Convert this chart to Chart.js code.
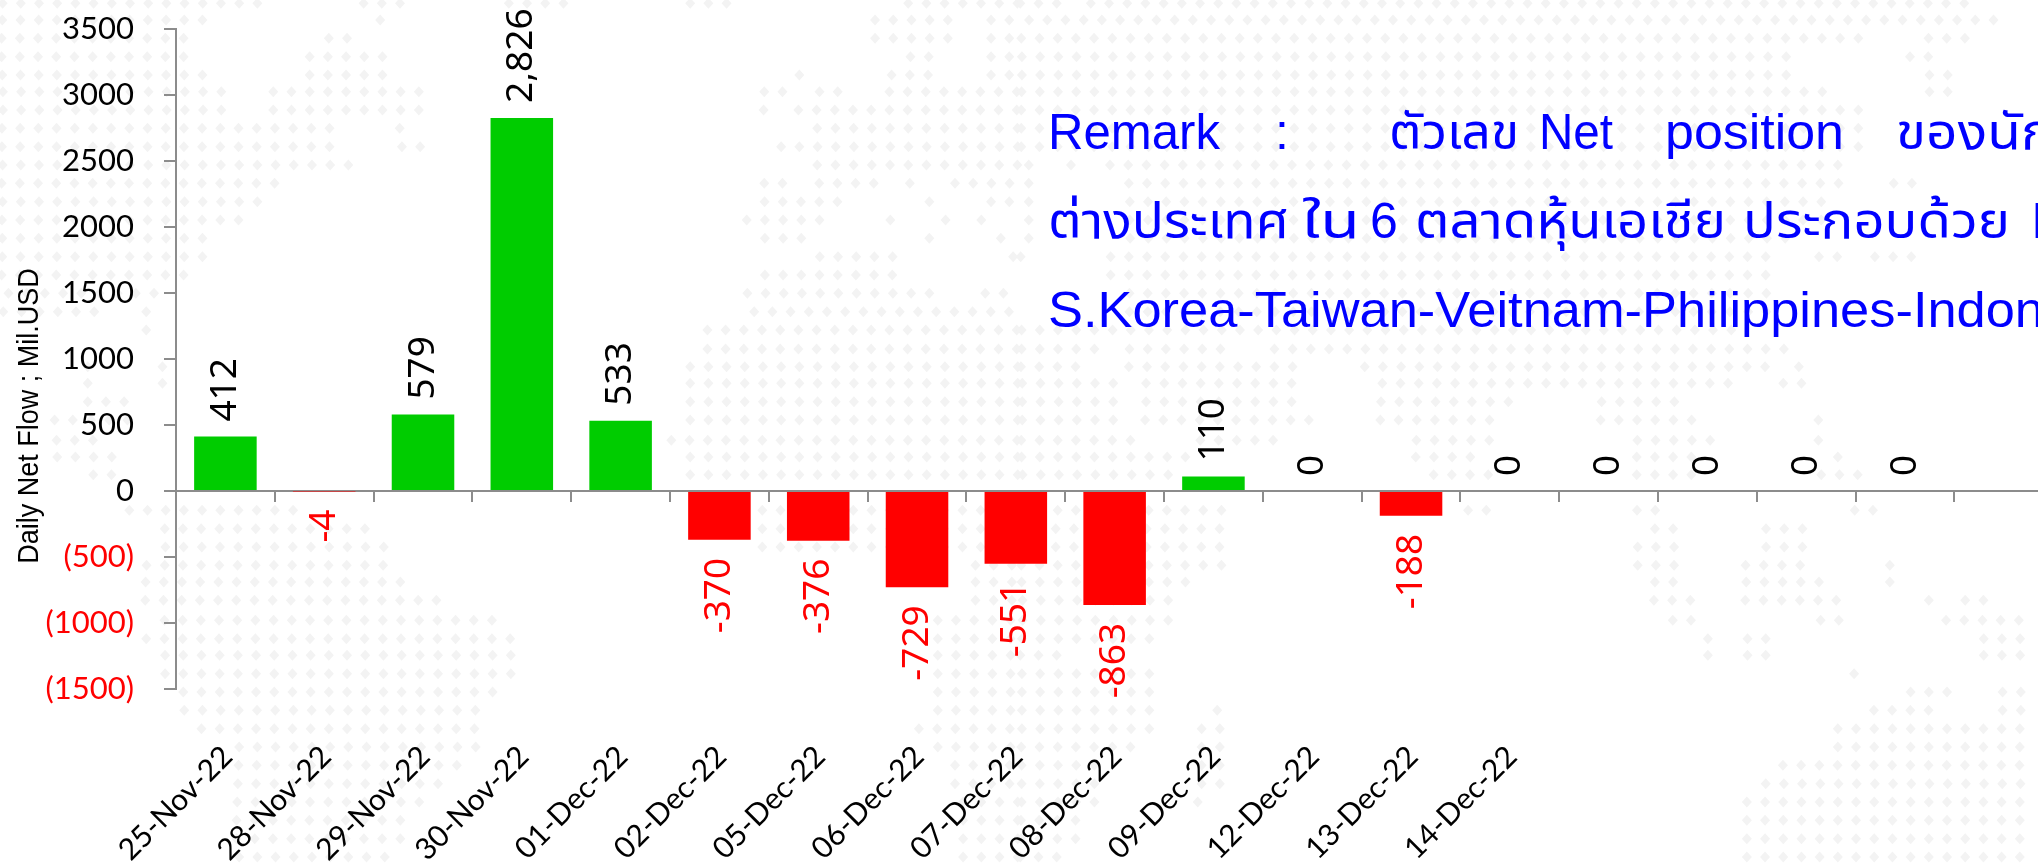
<!DOCTYPE html>
<html><head><meta charset="utf-8">
<script src="https://cdn.jsdelivr.net/npm/chart.js@4"></script>
<style>
html,body{margin:0;padding:0;background:#fff;width:2038px;height:863px;overflow:hidden}
#w{position:relative;width:2038px;height:863px;overflow:hidden}
canvas{position:absolute;left:0;top:0}
.r{position:absolute;color:#0000ff;font:50px "Liberation Sans","Noto Sans Thai","Noto Sans",sans-serif;white-space:pre;line-height:60px;transform-origin:0 50%}
</style></head><body>
<div id="w"><canvas id="c" width="2080" height="863" style="width:2080px;height:863px"></canvas>
<div class="r" data-w="172" style="top:102px;left:1048px">Remark</div>
<div class="r" style="top:102px;left:1275px">:</div>
<div class="r" data-w="130" style="top:102px;left:1389px">ตัวเลข</div>
<div class="r" data-w="74" style="top:102px;left:1539px">Net</div>
<div class="r" data-w="179" style="top:102px;left:1665px">position</div>
<div class="r" data-s="1.1" style="top:102px;left:1896px">ของนักลงทุน</div>
<div class="r" data-w="241" style="top:191px;left:1048px">ต่างประเทศ</div>
<div class="r" data-w="58" style="top:191px;left:1302px">ใน</div>
<div class="r" style="top:191px;left:1370px">6</div>
<div class="r" data-w="311" style="top:191px;left:1415px">ตลาดหุ้นเอเชีย</div>
<div class="r" data-w="267" style="top:191px;left:1743px">ประกอบด้วย</div>
<div class="r" style="top:191px;left:2031px">India-</div>
<div class="r" id="l3" style="top:280px;left:1048px">S.Korea-Taiwan-Veitnam-Philippines-Indonesia</div>
</div>
<script>
const categories=["25-Nov-22","28-Nov-22","29-Nov-22","30-Nov-22","01-Dec-22","02-Dec-22","05-Dec-22","06-Dec-22","07-Dec-22","08-Dec-22","09-Dec-22","12-Dec-22","13-Dec-22","14-Dec-22","","","","",""];
const netFlow=[412,-4,579,2826,533,-370,-376,-729,-551,-863,110,0,-188,0,0,0,0,0,null];
const yMin=-1500,yMax=3500,yStep=500;
const yAxisTitle='Daily Net Flow ; Mil.USD';
const GREY='#8c8c8c';
// faint dotted world-map backdrop: [row, left-half spans, right-half spans]
const mapTop=[
[10,[[0,400],[555,620],[780,870],[1055,1125],[1395,1568]],[[0,60],[105,1460]]],
[60,[[0,315],[576,594],[1340,1465],[1510,1568]],[[0,1515]]],
[115,[[0,285],[500,540],[1340,1465],[1510,1568]],[[0,1295],[1395,1460]]],
[170,[[0,285],[470,595],[1395,1435],[1510,1568]],[[0,1185],[1365,1405]]],
[225,[[0,315],[470,595],[1221,1239],[1365,1435],[1510,1568]],[[0,1185],[1395,1435]]],
[275,[[0,345],[415,650],[1170,1210],[1255,1295],[1365,1568]],[[0,1240],[1395,1435]]],
[330,[[0,345],[415,650],[1166,1184],[1225,1568]],[[0,1295]]],
[385,[[0,510],[606,624],[1255,1568]],[[0,1295]]],
[440,[[0,510],[615,650],[1200,1568]],[[0,1295]]],
[495,[[0,540],[1255,1568]],[[0,30],[71,89],[135,1265]]],
[550,[[0,425],[1170,1210],[1255,1350],[1391,1409],[1455,1568]],[[0,30],[165,1265],[1340,1380]]],
[605,[[0,400],[1170,1295],[1421,1439],[1510,1568]],[[0,30],[165,1240]]],
[660,[[0,370],[1145,1265],[1361,1379],[1446,1464],[1501,1519]],[[0,30],[165,1240]]],
[715,[[0,315],[1170,1240],[1421,1439],[1531,1549]],[[0,30],[165,1185]]],
[770,[[0,315],[1255,1380],[1550,1568]],[[0,5],[135,1155],[1225,1265],[1310,1380]]],
[825,[[0,285],[1170,1380]],[[135,1155]]],
[880,[[0,250],[1145,1435],[1510,1550]],[[165,1155]]],
[935,[[0,150],[216,234],[1145,1568]],[[165,1155]]],
[990,[[216,234],[1085,1568]],[[0,1100]]],
[1047,[[1085,1568]],[[0,120],[165,315],[385,1185]]],
[1100,[[126,144],[241,259],[1060,1568]],[[0,90],[165,425],[525,1155],[1191,1209]]],
[1150,[[126,144],[241,259],[1060,1568]],[[0,150],[190,425],[550,1100],[1170,1210]]],
[1205,[[126,200],[1060,1568]],[[0,150],[190,425],[550,760],[890,1015]]],
[1260,[[80,200],[1060,1568]],[[0,150],[190,450],[550,730],[890,1040],[1221,1239]]]];
const mapBottom=[
[25,[[80,150],[1030,1568]],[[0,175],[270,400],[605,730],[945,1070],[1221,1239]]],
[75,[[80,180],[1060,1568]],[[0,260],[605,700],[945,1040],[1251,1269]]],
[128,[[135,180],[1060,1568]],[[0,235],[630,730],[945,1040],[1230,1295]]],
[235,[[190,460],[1170,1568]],[[0,315],[680,730],[945,985],[1280,1320]]],
[290,[[245,570],[1170,1568]],[[50,315],[970,1015],[1145,1210]]],
[345,[[245,600],[1170,1568]],[[50,315],[945,1015],[1145,1210]]],
[400,[[215,600],[1490,1568]],[[0,315],[945,1015],[1110,1210],[1331,1349]]],
[450,[[215,625],[1490,1568]],[[0,260],[970,1015],[1110,1240],[1331,1349]]],
[505,[[215,680],[1490,1568]],[[0,235],[970,1040],[1110,1265],[1391,1409],[1450,1490]]],
[565,[[245,765],[1430,1568]],[[0,235],[1000,1040],[1230,1265],[1420,1545]]],
[620,[[215,795],[1430,1568]],[[0,205],[1051,1069],[1115,1155],[1480,1545]]],
[670,[[245,795],[1430,1568]],[[0,60],[1051,1069],[1115,1155],[1480,1545]]],
[725,[[245,795],[1430,1568]],[[0,205],[1276,1294]]],
[780,[[275,765],[1430,1568]],[[0,205],[1370,1430],[1510,1545]]],
[835,[[275,740],[1430,1568]],[[0,205],[296,314],[1310,1405],[1510,1545]]],
[890,[[300,740],[1400,1568]],[[0,205],[275,315],[1255,1545]]],
[945,[[360,740],[1430,1568]],[[0,175],[275,315],[1255,1545]]],
[1000,[[360,710],[1455,1568]],[[0,120],[275,315],[1170,1545]]],
[1055,[[360,680],[1455,1568]],[[0,120],[275,315],[1145,1545]]],
[1110,[[360,650],[1480,1568]],[[0,120],[266,284],[1115,1545]]],
[1165,[[360,620],[1480,1568]],[[0,90],[1115,1545]]],
[1220,[[360,620],[1480,1568]],[[0,90],[1115,1545]]],
[1275,[[360,600],[1480,1568]],[[0,60],[1115,1545]]]];
function drawMap(ctx){
 ctx.save();ctx.fillStyle='#f3f3f3';
 const K=1019/1568;
 const row=(y,spans,off)=>spans.forEach(([a,b])=>{
  const n=Math.max(0,Math.round((b-a-18)/28))+1,mid=(a+b)/2;
  for(let i=0;i<n;i++){const cx=off+(mid+(i-(n-1)/2)*28)*K;
   ctx.beginPath();ctx.moveTo(cx,y-5.5);ctx.lineTo(cx+5,y);ctx.lineTo(cx,y+5.5);ctx.lineTo(cx-5,y);ctx.closePath();ctx.fill();}
 });
 mapTop.forEach(([z,l,r])=>{row(z/3,l,0);row(z/3,r,1019);});
 mapBottom.forEach(([z,l,r])=>{row(432+z/3,l,0);row(432+z/3,r,1019);});
 ctx.restore();
}
const plug={id:'extras',
 beforeDraw(ch){drawMap(ch.ctx);},
 afterDraw(ch){
  const {ctx,scales:{x,y}}=ch;const z=y.getPixelForValue(0);
  const st=x.getPixelForValue(1)-x.getPixelForValue(0);
  ctx.save();ctx.strokeStyle=GREY;ctx.lineWidth=2;
  for(let i=0;i<categories.length;i++){const p=Math.round(x.getPixelForValue(i)-st/2);ctx.beginPath();ctx.moveTo(p,z);ctx.lineTo(p,z+11);ctx.stroke();}
  const m=ch.getDatasetMeta(0);
  ctx.font='37px "Noto Sans"';ctx.textBaseline='middle';
  netFlow.forEach((v,i)=>{if(v===null)return;const b=m.data[i];
   ctx.save();ctx.translate(b.x,b.y+(v<0?18:-15));ctx.rotate(-Math.PI/2);
   ctx.textAlign=v<0?'right':'left';ctx.fillStyle=v<0?'#ff0000':'#000';
   ctx.fillText(v.toLocaleString('en-US'),0,0);ctx.restore();});
  ctx.save();ctx.translate(38,416);ctx.rotate(-Math.PI/2);ctx.scale(1,1.08);
  ctx.font='27px "Liberation Sans"';ctx.textAlign='center';ctx.textBaseline='alphabetic';ctx.fillStyle='#000';
  ctx.fillText(yAxisTitle,0,0);ctx.restore();
  ctx.restore();
 }};
new Chart(document.getElementById('c'),{type:'bar',plugins:[plug],
 data:{labels:categories,datasets:[{data:netFlow,barPercentage:.633,categoryPercentage:1,
  backgroundColor:netFlow.map(v=>v<0?'#ff0000':'#00cc00')}]},
 options:{responsive:false,animation:false,devicePixelRatio:1,
  layout:{padding:{top:29,right:26,left:0,bottom:0}},
  plugins:{legend:{display:false},tooltip:{enabled:false}},
  scales:{
   x:{offset:true,border:{display:false},grid:{display:false,drawTicks:false},
    afterFit(s){s.height=174},
    ticks:{autoSkip:false,maxRotation:45,minRotation:45,padding:50,labelOffset:2,color:'#000',font:{family:'Lato',size:30}}},
   y:{min:yMin,max:yMax,afterFit(s){s.width=176;s.paddingTop=0;s.paddingBottom=0},
    border:{display:true,color:GREY,width:2},
    grid:{color:c=>c.tick&&c.tick.value===0?GREY:'rgba(0,0,0,0)',tickColor:GREY,lineWidth:2,tickLength:12},
    ticks:{stepSize:yStep,padding:30,color:c=>c.tick.value<0?'#ff0000':'#000',font:{family:'Lato',size:31},
     callback:v=>v<0?'('+(-v)+')':String(v)}}
  }}});
document.querySelectorAll('.r[data-w]').forEach(e=>{e.style.transform='scaleX('+(+e.dataset.w/e.getBoundingClientRect().width)+')';});
document.querySelectorAll('.r[data-s]').forEach(e=>{e.style.transform='scaleX('+e.dataset.s+')';});
(function(){const e=document.getElementById('l3');const r=document.createRange();const t=e.firstChild;r.setStart(t,0);r.setEnd(t,'S.Korea-Taiwan-Veitnam-Philippines-Indon'.length);
 e.style.transform='scaleX('+(996/r.getBoundingClientRect().width)+')';})();
</script></body></html>
